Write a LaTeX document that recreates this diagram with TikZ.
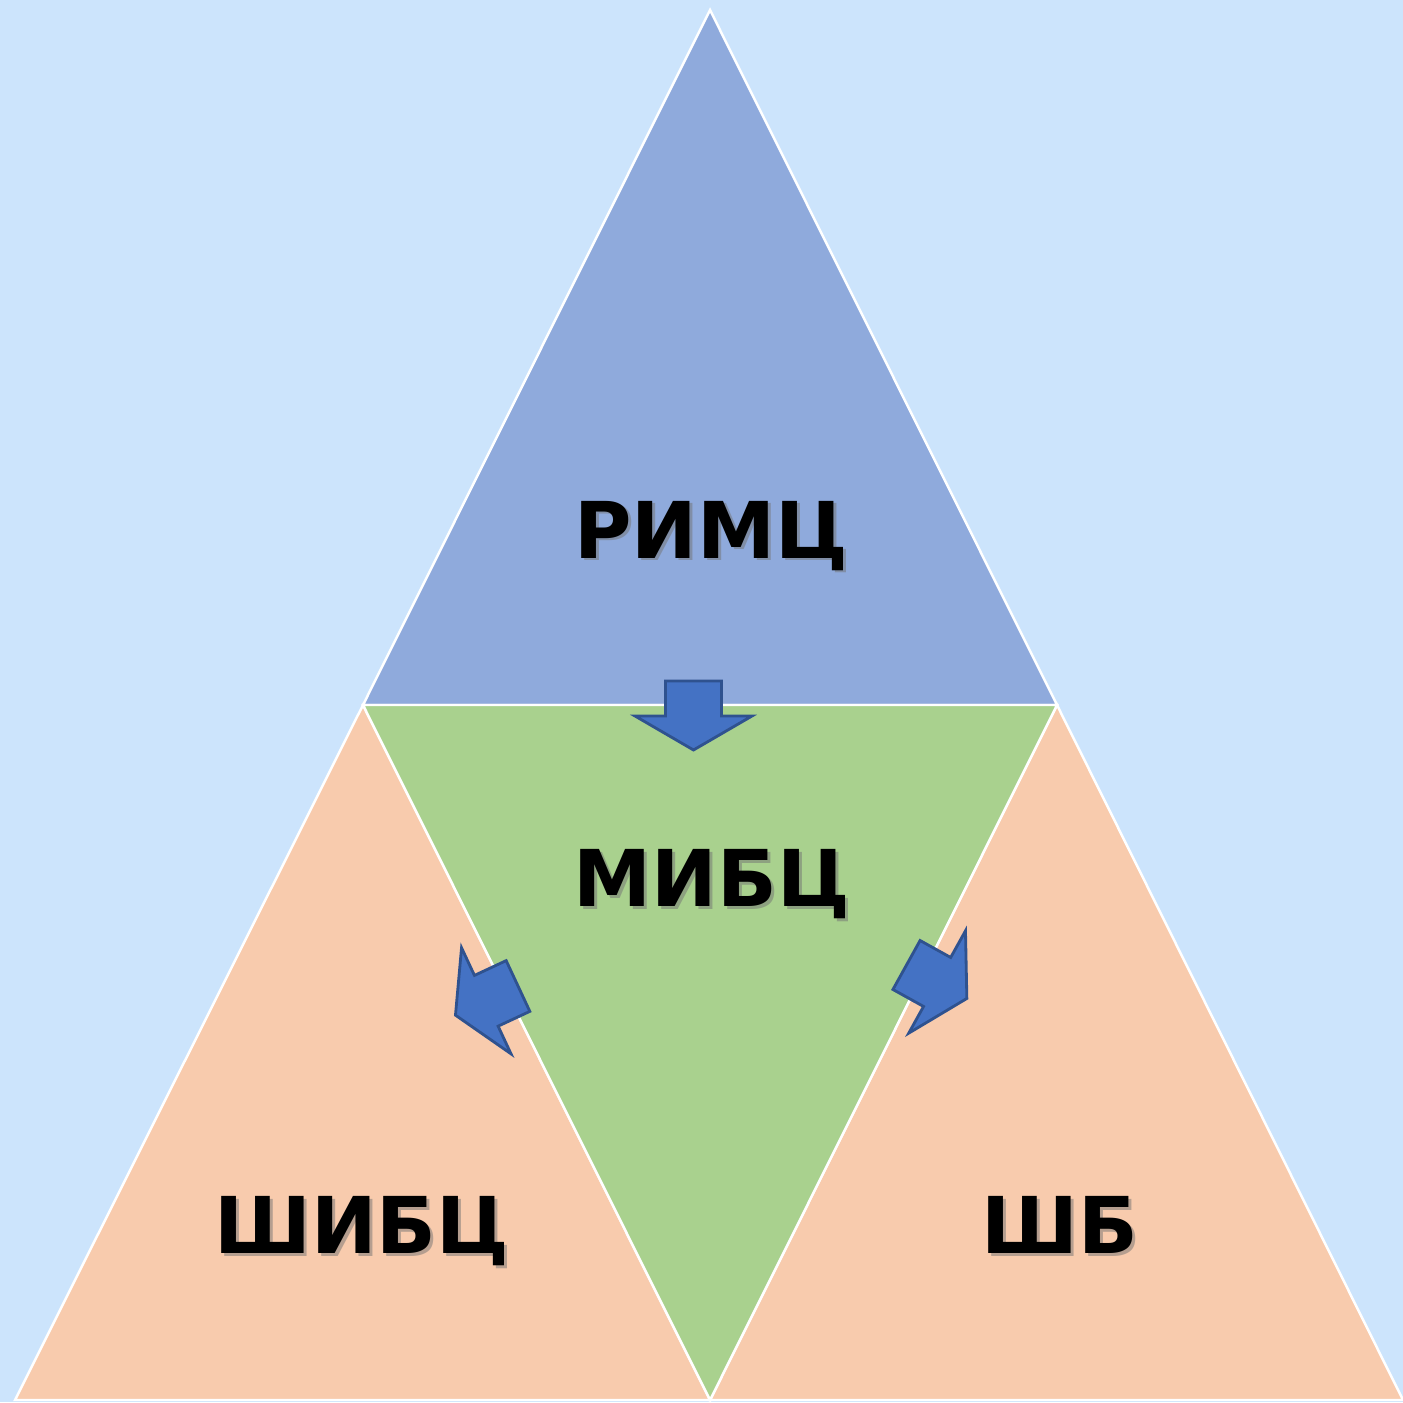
\documentclass[tikz,border=0pt]{standalone}
\usepackage{fontspec}
\setmainfont{DejaVu Sans}
\definecolor{bgblue}{RGB}{204,228,252}
\definecolor{topblue}{RGB}{143,170,220}
\definecolor{midgreen}{RGB}{169,209,142}
\definecolor{peach}{RGB}{248,203,173}
\definecolor{arrowfill}{RGB}{68,114,196}
\definecolor{arrowline}{RGB}{47,82,143}
\tikzset{
	tri/.style={draw=white, line width=0.7pt},
	lbl/.style={font=\fontsize{22.3}{22.3}\selectfont\bfseries, text=black, inner sep=0pt, anchor=base},
	shade/.style={lbl, text=black!55, opacity=0.5},
	blockarrow/.pic={
		\draw[fill=arrowfill, draw=arrowline, line width=0.8pt, line join=miter]
			(-0.28,0) -- (0.28,0) -- (0.28,-0.35) -- (0.585,-0.35) -- (0,-0.69)
			-- (-0.585,-0.35) -- (-0.28,-0.35) -- cycle;
	}
}
\begin{document}
\begin{tikzpicture}
				% background and triangles
				\useasboundingbox (0,0) rectangle (14.03,14.02);
				\fill[bgblue] (0,0) rectangle (14.03,14.02);
				\coordinate (A) at (7.10,13.92);
				\coordinate (L) at (3.63,6.97);
				\coordinate (R) at (10.57,6.97);
				\coordinate (BL) at (0.15,0.02);
				\coordinate (BM) at (7.10,0.02);
				\coordinate (BR) at (14.03,0.02);
				
				\filldraw[tri, fill=topblue] (A) -- (L) -- (R) -- cycle;
				\filldraw[tri, fill=peach] (L) -- (BL) -- (BM) -- cycle;
				\filldraw[tri, fill=peach] (R) -- (BM) -- (BR) -- cycle;
				\filldraw[tri, fill=midgreen] (L) -- (R) -- (BM) -- cycle;
				
				% labels
				\node[shade] at (7.14,8.41) {РИМЦ};
				\node[lbl] (rimc) at (7.11,8.44) {РИМЦ};
				\node[shade] at (7.15,4.93) {МИБЦ};
				\node[lbl] (mibc) at (7.12,4.96) {МИБЦ};
				\node[shade] at (3.65,1.46) {ШИБЦ};
				\node[lbl] (shibc) at (3.62,1.49) {ШИБЦ};
				\node[shade] at (10.63,1.46) {ШБ};
				\node[lbl] (shb) at (10.60,1.49) {ШБ};
				
				% arrows
				\pic (down) at (6.935,7.21) {blockarrow};
				\pic[rotate=-65] (toleft) at (5.18,4.16) {blockarrow};
				\pic[rotate=61] (toright) at (9.065,4.37) {blockarrow};
			\end{tikzpicture}
\end{document}
